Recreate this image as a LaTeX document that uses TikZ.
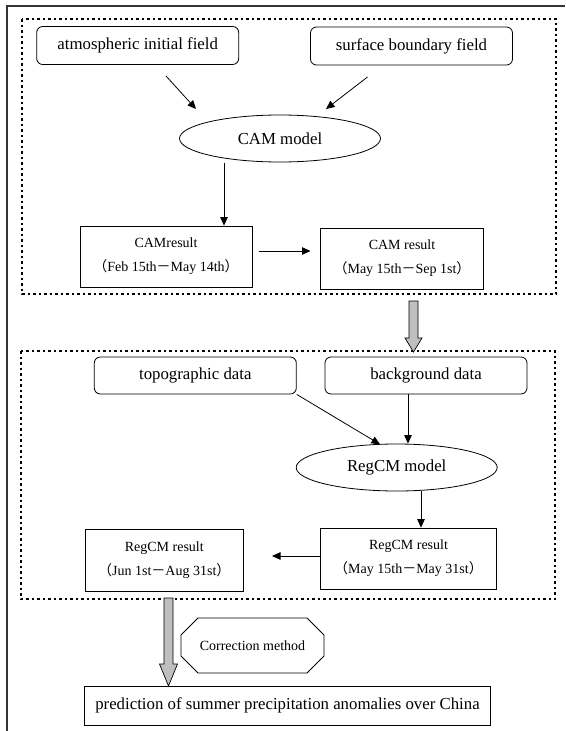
\documentclass[tikz,border=0pt]{standalone}
\usepackage{fontspec}
\setmainfont{Liberation Serif}
\newfontfamily\cjkfnt{Noto Sans CJK SC}
\usetikzlibrary{arrows.meta,shapes.geometric,calc}
\newcommand{\zlp}{{\cjkfnt （}}
\newcommand{\zrp}{{\cjkfnt ）}}
\newcommand{\zdash}{{\cjkfnt －}}
\begin{document}
\begin{tikzpicture}[x=1pt,y=-1pt,line width=0.8pt,
  big/.style={font=\fontsize{16.8}{20}\selectfont},
  rbox/.style={draw,rounded corners=6pt,minimum width=202pt,minimum height=38pt,inner sep=0pt,big},
  ell/.style={draw,ellipse,minimum width=201pt,minimum height=47pt,inner sep=0pt,big},
  sbox/.style={draw,minimum height=61pt,inner sep=0pt,align=center,font=\fontsize{14}{24}\selectfont},
  arr/.style={-{Triangle[length=8.5pt,width=7.5pt]}},
  dotframe/.style={line width=2.2pt,dash pattern=on 2.5pt off 3pt},
  greyarrow/.style={draw,fill=black!25,line width=0.7pt}]
\useasboundingbox (0,0) rectangle (565,731);
% outer frame
\draw[line width=1.2pt,black!80] (565,6) -- (7,6) -- (7,731);
% dotted frames
\draw[dotframe] (22,19) rectangle (556,294);
\draw[dotframe] (21,351) rectangle (555,599);
% upper part
\node[rbox] (atm) at (137.7,45.5) {atmospheric initial field};
\node[rbox] (surf) at (411.5,46) {surface boundary field};
\node[ell] (cam) at (280,138.5) {CAM model};
\node[sbox,minimum width=172pt] (box1) at (166,256.5) {CAMresult\\\zlp Feb 15th\zdash May 14th\zrp};
\node[sbox,minimum width=163pt] (box2) at (402,258.5) {CAM result\\\zlp May 15th\zdash Sep 1st\zrp};
\coordinate (a1s) at (166,76); \coordinate (a1e) at (196,109);
\draw[arr] (a1s) -- (a1e);
\coordinate (a2s) at (367.5,77); \coordinate (a2e) at (326,109);
\draw[arr] (a2s) -- (a2e);
\coordinate (a3s) at (224,163);
\draw[arr] (a3s) -- (a3s |- box1.north);
\coordinate (a4s) at (258.5,251); \coordinate (a4e) at (310.5,251);
\draw[arr] (a4s) -- (a4e);
% grey arrow between frames
\path[greyarrow] (409,301) -- (418,301) -- (418,338) -- (422,338) -- (413.5,352) -- (405,338) -- (409,338) -- cycle;
% lower part
\node[rbox,minimum height=37pt] (topo) at (195.3,375.5) {topographic data};
\node[rbox,minimum height=37pt] (bg) at (426,375.5) {background data};
\node[ell] (reg) at (396.7,467.5) {RegCM model};
\node[sbox,minimum width=175.5pt] (may) at (408.5,558.5) {RegCM result\\\zlp May 15th\zdash May 31st\zrp};
\node[sbox,minimum width=158pt,minimum height=62pt] (jun) at (164.3,560) {RegCM result\\\zlp Jun 1st\zdash Aug 31st\zrp};
\coordinate (a5e) at (380,444.3);
\draw[arr] (topo.south east) -- (a5e);
\coordinate (a6) at (408,0);
\draw[arr] (bg.south -| a6) -- (reg.north -| a6);
\coordinate (a7) at (421,0);
\draw[arr] (reg.south -| a7) -- (may.north -| a7);
\coordinate (a8e) at (272,556);
\draw[arr] (a8e -| may.west) -- (a8e);
% correction
\node[font=\fontsize{14}{16}\selectfont] (corr) at (252.5,645.5) {Correction method};
\draw (198,618) -- (307,618) -- (324,635) -- (324,656) -- (307,673) -- (198,673) -- (181,656) -- (181,635) -- cycle;
\node[draw,minimum width=406pt,minimum height=39pt,inner sep=0pt,big] (pred) at (287.5,705.5) {prediction of summer precipitation anomalies over China};
\path[greyarrow] (164,598) -- (173,598) -- (173,664) -- (177.5,664) -- (168.5,686) -- (159.5,664) -- (164,664) -- cycle;
\end{tikzpicture}
\end{document}
